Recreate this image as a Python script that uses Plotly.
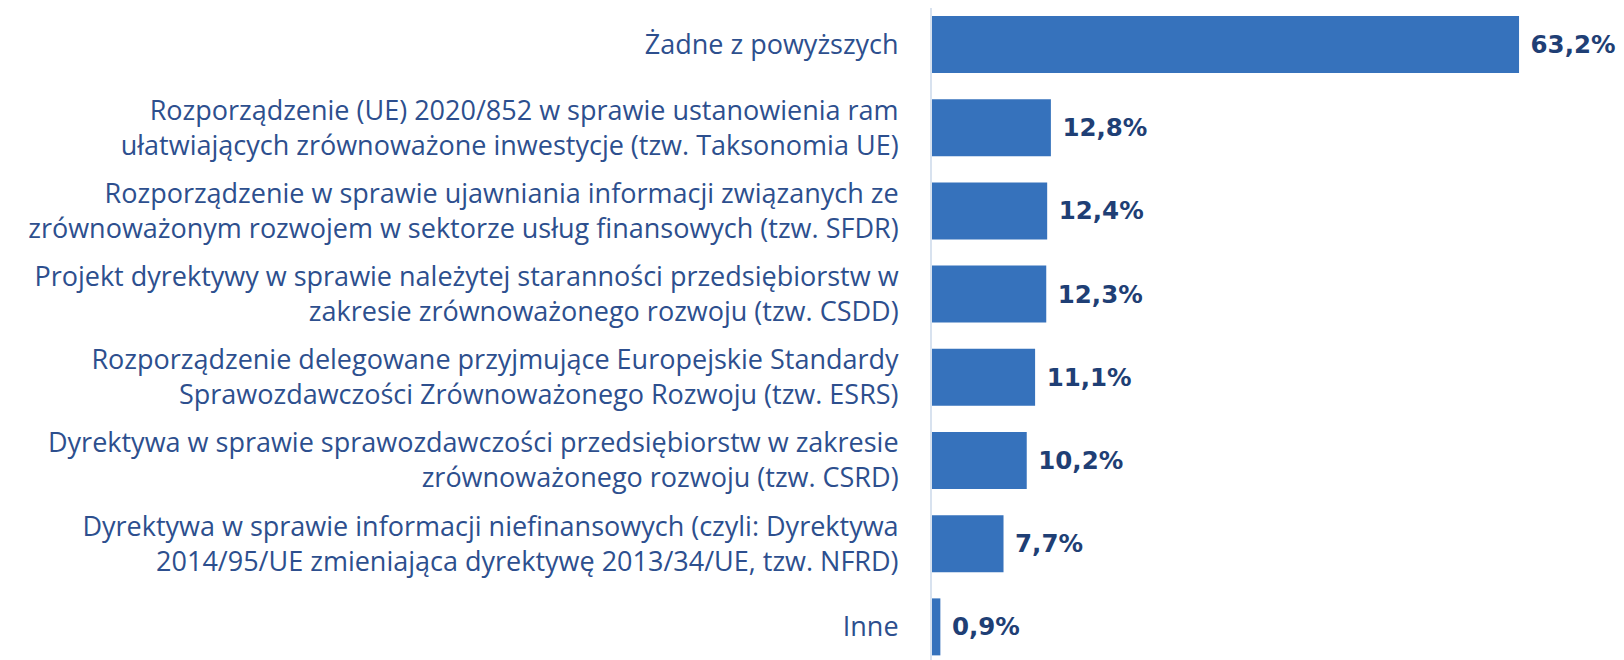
import plotly.graph_objects as go

categories = [
    'Żadne z powyższych',
    'Rozporządzenie (UE) 2020/852 w sprawie ustanowienia ram<br>ułatwiających zrównoważone inwestycje (tzw. Taksonomia UE)',
    'Rozporządzenie w sprawie ujawniania informacji związanych ze<br>zrównoważonym rozwojem w sektorze usług finansowych (tzw. SFDR)',
    'Projekt dyrektywy w sprawie należytej staranności przedsiębiorstw w<br>zakresie zrównoważonego rozwoju (tzw. CSDD)',
    'Rozporządzenie delegowane przyjmujące Europejskie Standardy<br>Sprawozdawczości Zrównoważonego Rozwoju (tzw. ESRS)',
    'Dyrektywa w sprawie sprawozdawczości przedsiębiorstw w zakresie<br>zrównoważonego rozwoju (tzw. CSRD)',
    'Dyrektywa w sprawie informacji niefinansowych (czyli: Dyrektywa<br>2014/95/UE zmieniająca dyrektywę 2013/34/UE, tzw. NFRD)',
    'Inne',
]
values = [63.2, 12.8, 12.4, 12.3, 11.1, 10.2, 7.7, 0.9]
value_labels = ['63,2%', '12,8%', '12,4%', '12,3%', '11,1%', '10,2%', '7,7%', '0,9%']

positions = list(range(len(categories)))

fig = go.Figure(go.Bar(
    x=values,
    y=positions,
    orientation='h',
    width=0.685,
    marker=dict(color='#3672bc', line=dict(width=0)),
    text=value_labels,
    texttemplate='\u00a0%{text}',
    textposition='outside',
    cliponaxis=False,
    textfont=dict(family='DejaVu Sans', size=24.5, color='#1f3f75', weight='bold'),
    hoverinfo='skip'))

# page has an 8px body margin, so the figure is sized to fit inside it
fig.update_layout(
    width=1616,
    height=652,
    margin=dict(l=924, r=0, t=0, b=0),
    plot_bgcolor='white',
    paper_bgcolor='white',
    showlegend=False,
    font=dict(family='Open Sans', size=27, color='#2d4f8e'))

fig.update_xaxes(
    range=[0, 74.5],
    visible=False,
    showgrid=False,
    zeroline=False)

fig.update_yaxes(
    range=[7.398, -0.439],
    tickmode='array',
    tickvals=positions,
    ticktext=categories,
    showgrid=False,
    zeroline=False,
    showline=True,
    linecolor='#d8e2ef',
    linewidth=2,
    ticks='outside',
    ticklen=26,
    tickcolor='rgba(0,0,0,0)',
    tickfont=dict(family='Open Sans', size=27, color='#2d4f8e'))

fig.write_html('out.html')
